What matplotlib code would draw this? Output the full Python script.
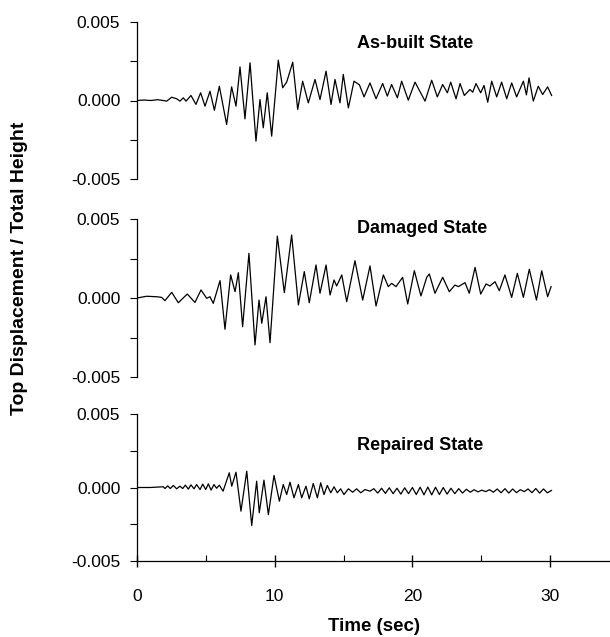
"""
Top displacement / total height time histories, three structural states.
"""

import matplotlib
matplotlib.use("Agg")
import matplotlib.pyplot as plt
from matplotlib.ticker import FormatStrFormatter, MultipleLocator

plt.rcParams["font.family"] = ["Liberation Sans", "DejaVu Sans"]
plt.rcParams["axes.unicode_minus"] = False

# ---------------------------------------------------------------------------
# Data (time in s, drift in units of 1e-3)
# ---------------------------------------------------------------------------

asbuilt_t = [
    0.0, 0.5, 1.0, 1.5, 1.91, 2.16, 2.52, 2.88, 3.12, 3.36, 3.56, 3.92,
    4.28, 4.62, 4.94, 5.30, 5.62, 5.98, 6.51, 6.87, 7.19, 7.48, 7.84, 8.21,
    8.64, 8.93, 9.17, 9.46, 9.78, 10.26, 10.58, 10.87, 11.31, 11.67, 12.03,
    12.44, 12.93, 13.29, 13.73, 14.09, 14.38, 14.74, 14.98, 15.35, 15.76,
    16.15, 16.49, 16.92, 17.36, 17.84, 18.18, 18.49, 18.91, 19.22, 19.70,
    20.19, 20.92, 21.40, 21.81, 22.20, 22.54, 22.78, 23.17, 23.46, 23.77,
    24.18, 24.38, 24.62, 24.96, 25.20, 25.47, 25.76, 26.12, 26.48, 26.85,
    27.21, 27.57, 28.06, 28.28, 28.47, 28.78, 29.14, 29.46, 29.82, 30.11,
]
asbuilt_d = [
    0.0, 0.03, 0.0, 0.05, 0.0, -0.04, 0.21, 0.11, -0.04, 0.17, -0.04, 0.32,
    -0.25, 0.49, -0.36, 0.59, -0.62, 0.91, -1.53, 0.87, -0.36, 2.14, -1.17,
    2.40, -2.59, 0.06, -1.74, 0.49, -2.27, 2.57, 0.81, 1.17, 2.44, -0.57,
    1.23, -0.15, 1.34, 0.06, 1.87, -0.25, 1.34, -0.15, 1.66, -0.47, 1.23,
    1.00, 0.23, 1.12, 0.11, 1.08, 0.28, 1.02, 0.17, 1.23, 0.02,
    1.17, -0.04, 1.29, 0.23, 1.02, 0.49, 1.17, 0.11, 1.08, 0.32,
    0.70, 0.53, 1.08, 0.49, 0.96, -0.11, 1.23, 0.23, 1.17, 0.11,
    1.12, 0.23, 1.23, 0.36, 1.44, -0.04, 0.91, 0.38, 0.87, 0.32,
]

damaged_t = [
    0.0, 0.70, 1.43, 1.79, 2.03, 2.52, 3.00, 3.65, 4.21, 4.65, 5.06, 5.30,
    5.54, 6.03, 6.39, 6.80, 7.12, 7.36, 7.67, 8.13, 8.57, 8.86, 9.06, 9.37,
    9.66, 10.19, 10.70, 11.23, 11.72, 12.15, 12.51, 13.00, 13.29, 13.73,
    14.02, 14.31, 14.50, 14.87, 15.23, 15.83, 16.39, 16.92, 17.36, 17.89,
    18.25, 18.49, 18.81, 19.29, 19.66, 20.14, 20.62, 21.04, 21.23, 21.64,
    22.20, 22.68, 23.09, 23.34, 23.82, 24.13, 24.55, 24.96, 25.35, 25.63,
    26.00, 26.31, 26.72, 27.21, 27.62, 28.06, 28.49, 29.01, 29.39, 29.82,
    30.07,
]
damaged_d = [
    0.0, 0.11, 0.08, 0.04, -0.17, 0.36, -0.30, 0.25, -0.28, 0.51, -0.02,
    0.08, -0.34, 1.10, -1.98, 1.46, 0.40, 1.60, -1.82, 2.83, -2.97, -0.13,
    -1.60, 0.08, -2.83, 3.92, 0.34, 3.99, -0.44, 1.67, -0.30, 2.09, 0.30,
    2.09, 0.19, 1.14, 0.76, 1.46, -0.23, 2.36, -0.13, 2.03, -0.51, 1.46,
    0.72, 0.93, 0.72, 1.31, -0.38, 1.73, 0.13, 1.31, 1.52, 0.30,
    1.31, 0.40, 0.82, 0.72, 0.97, 0.30, 1.94, 0.25, 0.89, 0.76,
    1.03, 0.46, 1.46, 0.04, 1.56, 0.04, 1.82, -0.13, 1.73, 0.08,
    0.72,
]

repaired_t = [
    0.0, 0.94, 1.91, 2.03, 2.23, 2.42, 2.64, 2.88, 3.12, 3.32, 3.51, 3.73,
    3.92, 4.14, 4.33, 4.58, 4.77, 4.99, 5.18, 5.38, 5.59, 5.78, 5.98, 6.25,
    6.70, 6.88, 7.19, 7.55, 7.97, 8.33, 8.69, 8.88, 9.22, 9.54, 9.95, 10.34,
    10.62, 10.87, 11.11, 11.40, 11.72, 11.96, 12.27, 12.51, 12.80, 13.10,
    13.34, 13.58, 13.82, 14.07, 14.31, 14.55, 14.79, 15.03, 15.35, 15.66,
    15.95, 16.25, 16.56, 16.92,
    17.20, 17.48, 17.76, 18.04, 18.32, 18.60, 18.88, 19.16, 19.44, 19.72,
    20.00, 20.28, 20.56, 20.84, 21.12, 21.40, 21.68, 21.96, 22.24, 22.52,
    22.80, 23.08, 23.36, 23.64, 23.92, 24.20, 24.48, 24.76, 25.04, 25.32,
    25.60, 25.88, 26.16, 26.44, 26.72, 27.00, 27.28, 27.56, 27.84, 28.12,
    28.40, 28.68, 28.96, 29.24, 29.52, 29.80, 30.10,
]
repaired_d = [
    0.0, 0.0, 0.05, -0.07, 0.11, -0.07, 0.14, -0.09, 0.09, -0.07, 0.16,
    -0.11, 0.18, -0.09, 0.20, -0.14, 0.23, -0.14, 0.25, -0.18, 0.20, -0.05,
    0.16, -0.25, 1.00, 0.09, 1.04, -1.61, 1.11, -2.59, 0.43, -1.72, 0.50,
    -1.84, 0.82, -0.93, 0.20, -0.48, 0.36, -0.70, 0.20, -0.70, 0.09, -0.77,
    0.27, -0.70, 0.32, -0.48, 0.14, -0.36, 0.05, -0.36, -0.09, -0.48, -0.09,
    -0.32, -0.09, -0.36, -0.14, -0.25,
    -0.08, -0.38, -0.05, -0.40, -0.02, -0.42, -0.05, -0.45, -0.02, -0.42,
    0.00, -0.48, 0.02, -0.50, 0.03, -0.50, 0.02, -0.48, 0.00, -0.45,
    -0.05, -0.42, -0.08, -0.38, -0.12, -0.32, -0.15, -0.30, -0.18, -0.28,
    -0.15, -0.32, -0.10, -0.36, -0.08, -0.38, -0.10, -0.35, -0.15, -0.28,
    -0.10, -0.35, -0.07, -0.38, -0.10, -0.36, -0.20,
]

titles = ["As-built State", "Damaged State", "Repaired State"]
series = [(asbuilt_t, asbuilt_d), (damaged_t, damaged_d), (repaired_t, repaired_d)]

# ---------------------------------------------------------------------------
# Figure
# ---------------------------------------------------------------------------

W, H = 610, 637
fig = plt.figure(figsize=(W / 100, H / 100), dpi=100)

# panel extents in pixels: (top, bottom)
panels_px = [(22, 179), (219, 377), (414, 561)]
title_y = [0.866, 0.943, 0.789]
x0_px = 137

for i, ((t, d), title, (ptop, pbot)) in enumerate(zip(series, titles, panels_px)):
    ax = fig.add_axes([x0_px / W, (H - pbot) / H, (W - x0_px) / W, (pbot - ptop) / H])
    ax.plot(t, [v * 1e-3 for v in d], color="black", lw=0.9,
            solid_joinstyle="round")
    ax.set_xlim(0, 34.35)
    ax.set_ylim(-0.005, 0.005)

    ax.spines["top"].set_visible(False)
    ax.spines["right"].set_visible(False)
    ax.spines["left"].set_linewidth(0.9)

    ax.yaxis.set_major_locator(MultipleLocator(0.005))
    ax.yaxis.set_minor_locator(MultipleLocator(0.0025))
    ax.yaxis.set_major_formatter(FormatStrFormatter("%.3f"))
    ax.tick_params(axis="y", which="both", direction="out", length=5,
                   width=0.8, labelsize=12.5, pad=7)

    ax.text(0.465, title_y[i], title, transform=ax.transAxes,
            fontsize=13, fontweight="bold", ha="left", va="center")

    if i < 2:
        ax.spines["bottom"].set_visible(False)
        ax.tick_params(axis="x", which="both", bottom=False, labelbottom=False)
    else:
        ax.spines["bottom"].set_linewidth(0.9)
        ax.xaxis.set_major_locator(MultipleLocator(10))
        ax.xaxis.set_minor_locator(MultipleLocator(5))
        ax.tick_params(axis="x", which="major", direction="inout", length=8,
                       width=1.0, labelsize=12.5, pad=16)
        ax.tick_params(axis="x", which="minor", direction="in", length=4,
                       width=0.8)
        ax.set_xlabel("Time (sec)", fontsize=13.5, fontweight="bold",
                      labelpad=10)

fig.text(0.032, 0.579, "Top Displacement / Total Height", rotation=90,
         fontsize=14, fontweight="bold", ha="center", va="center")

fig.savefig("out.png", dpi=100)
